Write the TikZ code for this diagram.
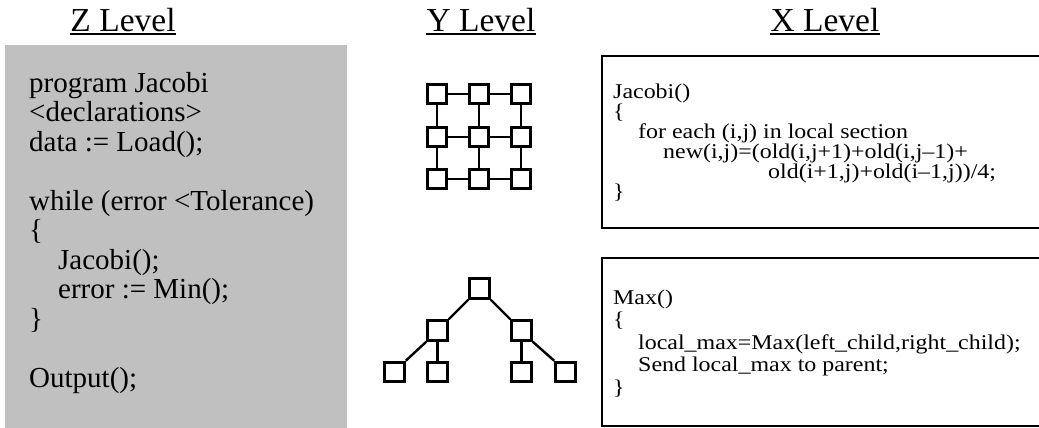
\documentclass[tikz,border=0pt]{standalone}
\usepackage{fontspec}
\setmainfont{Liberation Serif}
% the node programs are set in a slightly widened face
\newfontfamily\widefont[FakeStretch=1.14]{Liberation Serif}
\definecolor{panelgray}{HTML}{C0C0C0}
% fixed line pitch regardless of glyph height
\newcommand{\fixedpitch}{\setlength{\lineskiplimit}{-100pt}\setlength{\lineskip}{0pt}}
\tikzset{
  title/.style={inner sep=0pt, anchor=base, font=\fontsize{33.5}{33.5}\selectfont},
  uline/.style={line width=1.8pt},
  cell/.style={draw, line width=3pt, fill=white, minimum size=19.5pt, inner sep=0pt},
  link/.style={line width=2.4pt},
  codebox/.style={line width=2.5pt},
  ztext/.style={inner sep=0pt, anchor=base west, align=left,
    font=\fontsize{29}{29.5}\selectfont\fixedpitch},
  xtext/.style={inner sep=0pt, anchor=base west, align=left},
}
\newcommand{\lt}{\symbol{"3C}}
\newcommand{\gt}{\symbol{"3E}}
\begin{document}
\begin{tikzpicture}[x=1pt, y=-1pt]
\useasboundingbox (0,0) rectangle (1039,428);

% column headings
\node[title] (zt) at (123,32) {Z Level};
\node[title] (yt) at (481,32) {Y Level};
\node[title] (xt) at (825,32) {X Level};
\foreach \t in {zt,yt,xt}
  \draw[uline] ([yshift=-1.8pt]\t.base west) -- ([yshift=-1.8pt]\t.base east);

% Z level: the driver program (anchored on the baseline of its last line)
\fill[panelgray] (5,45) rectangle (347,440);
\node[ztext] (zcode) at (29,387) {program Jacobi\\
\lt declarations\gt\\
data := Load();\\[29.5pt]
while (error \lt Tolerance)\\
\{\\
\hspace*{29pt}Jacobi();\\
\hspace*{29pt}error := Min();\\
\}\\[29.5pt]
Output();};

% Y level: mesh of processes
\foreach \c/\x in {1/437,2/479,3/521}
  \foreach \r/\y in {1/94,2/137,3/179}
    \node[cell] (g\c\r) at (\x,\y) {};
\foreach \r in {1,2,3} {
  \draw[link] (g1\r) -- (g2\r);
  \draw[link] (g2\r) -- (g3\r);
}
\foreach \c in {1,2,3} {
  \draw[link] (g\c1) -- (g\c2);
  \draw[link] (g\c2) -- (g\c3);
}

% Y level: reduction tree
\node[cell] (root) at (479.5,288.5) {};
\node[cell] (lc) at (437.5,330.5) {};
\node[cell] (rc) at (521.5,330.5) {};
\node[cell] (l1) at (394.5,372) {};
\node[cell] (l2) at (437.5,372) {};
\node[cell] (l3) at (521.5,372) {};
\node[cell] (l4) at (565.5,372) {};
\draw[link] (root.south west) -- (lc.north east);
\draw[link] (root.south east) -- (rc.north west);
\draw[link] (lc.south west) -- (l1.north east);
\draw[link] (lc.south) -- (l2.north);
\draw[link] (rc.south) -- (l3.north);
\draw[link] (rc.south east) -- (l4.north west);

% X level: node programs
\draw[codebox] (602,56) rectangle (1050,228);
\draw[codebox] (602,258) rectangle (1050,426);

\node[xtext, font=\widefont\fontsize{21}{20}\selectfont\fixedpitch] (jac) at (613,198) {Jacobi()\\
\{\\
\hspace*{25pt}for each (i,j) in local section\\
\hspace*{50pt}new(i,j)=(old(i,j+1)+old(i,j–1)+\\
\hspace*{155pt}old(i+1,j)+old(i–1,j))/4;\\
\}};

\node[xtext, font=\widefont\fontsize{21}{22.5}\selectfont\fixedpitch] (mx) at (613,394) {Max()\\
\{\\
\hspace*{25pt}local\_max=Max(left\_child,right\_child);\\
\hspace*{25pt}Send local\_max to parent;\\
\}};
\end{tikzpicture}
\end{document}
